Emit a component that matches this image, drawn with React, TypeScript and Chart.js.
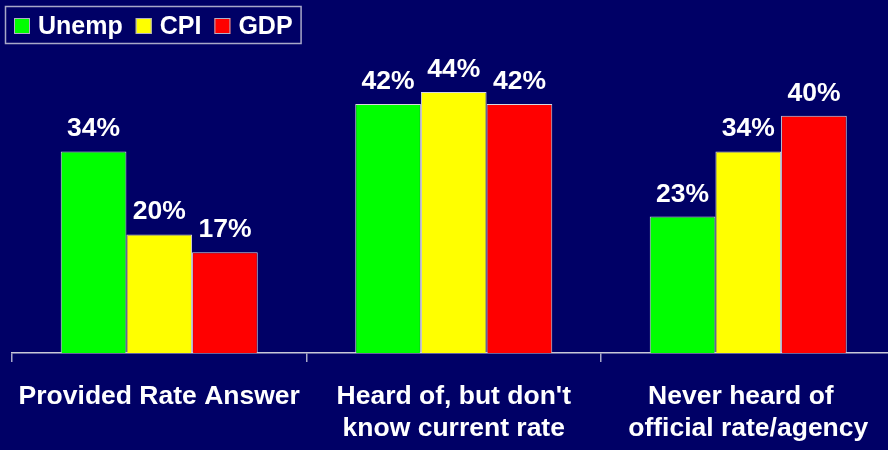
import React, { useEffect, useRef } from "react";
import { Chart, registerables } from "chart.js";

Chart.register(...registerables);

const categories: (string | string[])[] = [
  "Provided Rate Answer",
  ["Heard of, but don't", "know current rate"],
  ["Never heard of  ", "official rate/agency"],
];
const seriesNames = ["Unemp", "CPI", "GDP"];
const unempValues = [34, 42, 23];
const cpiValues = [20, 44, 34];
const gdpValues = [17, 42, 40];
const seriesColors = ["#00ff00", "#ffff00", "#ff0000"];

const BG = "#000066";
const FONT = "'Liberation Sans', Arial, sans-serif";

const bgPlugin = {
  id: "bgFill",
  beforeDraw(chart: any) {
    const ctx = chart.ctx;
    ctx.save();
    ctx.fillStyle = BG;
    ctx.fillRect(0, 0, chart.width, chart.height);
    ctx.restore();
  },
};

const labelPlugin = {
  id: "valueLabels",
  afterDatasetsDraw(chart: any) {
    const ctx = chart.ctx;
    ctx.save();
    ctx.fillStyle = "#ffffff";
    ctx.font = `bold 26.5px ${FONT}`;
    ctx.textAlign = "center";
    ctx.textBaseline = "alphabetic";
    chart.data.datasets.forEach((ds: any, di: number) => {
      const meta = chart.getDatasetMeta(di);
      meta.data.forEach((el: any, i: number) => {
        ctx.fillText(`${ds.data[i]}%`, el.x, el.y - 15);
      });
    });
    ctx.restore();
  },
};

const legendPlugin = {
  id: "boxLegend",
  afterDraw(chart: any) {
    const ctx = chart.ctx;
    ctx.save();
    ctx.font = `bold 25px ${FONT}`;
    ctx.textBaseline = "alphabetic";
    ctx.textAlign = "left";
    let x = 14;
    const sw = 16;
    const top = 18;
    const ends: number[] = [];
    chart.data.datasets.forEach((ds: any) => {
      ctx.fillStyle = ds.backgroundColor;
      ctx.fillRect(x, top, sw, sw);
      ctx.strokeStyle = "#b0b0c8";
      ctx.lineWidth = 1;
      ctx.strokeRect(x + 0.5, top + 0.5, sw - 1, sw - 1);
      x += sw + 8;
      ctx.fillStyle = "#ffffff";
      ctx.fillText(ds.label, x, 34);
      x += ctx.measureText(ds.label).width;
      ends.push(x);
      x += 13;
    });
    const right = ends[ends.length - 1] + 8;
    ctx.strokeStyle = "#a8a8c8";
    ctx.lineWidth = 1.5;
    ctx.strokeRect(5.5, 6.5, right - 5, 37);
    ctx.restore();
  },
};

export default function App() {
  const ref = useRef<HTMLCanvasElement | null>(null);

  useEffect(() => {
    document.body.style.margin = "0";
    document.body.style.background = BG;
    document.body.style.overflow = "hidden";
    const canvas = ref.current;
    if (!canvas) return;
    const values = [unempValues, cpiValues, gdpValues];
    const chart = new Chart(canvas, {
      type: "bar",
      data: {
        labels: categories,
        datasets: seriesNames.map((name, i) => ({
          label: name,
          data: values[i],
          backgroundColor: seriesColors[i],
          borderColor: "#d8d8e0",
          borderWidth: 1,
          categoryPercentage: 0.669,
          barPercentage: 1,
        })),
      },
      options: {
        responsive: false,
        animation: false,
        devicePixelRatio: 1,
        layout: { padding: { top: 56.5, left: 12, right: 4.5, bottom: 0 } },
        plugins: {
          legend: { display: false },
          tooltip: { enabled: false },
        },
        scales: {
          x: {
            offset: true,
            grid: {
              display: true,
              offset: true,
              drawOnChartArea: false,
              drawTicks: true,
              tickLength: 9,
              color: "#a8a8c8",
              lineWidth: 1.5,
            },
            border: { display: true, color: "#c8c8d8", width: 1.5 },
            ticks: {
              color: "#ffffff",
              padding: 19,
              maxRotation: 0,
              autoSkip: false,
              font: { family: FONT, size: 26.5, weight: "bold", lineHeight: 1.2 },
            },
            afterFit: (scale: any) => {
              scale.height = 97;
              scale.paddingLeft = 0;
              scale.paddingRight = 0;
            },
          },
          y: {
            display: false,
            min: 0,
            max: 50,
          },
        },
      },
      plugins: [bgPlugin, labelPlugin, legendPlugin],
    } as any);
    return () => chart.destroy();
  }, []);

  return (
    <div style={{ width: 888, height: 450, overflow: "hidden", background: BG }}>
      <canvas ref={ref} width={900} height={450} style={{ width: 900, height: 450, display: "block" }} />
    </div>
  );
}
